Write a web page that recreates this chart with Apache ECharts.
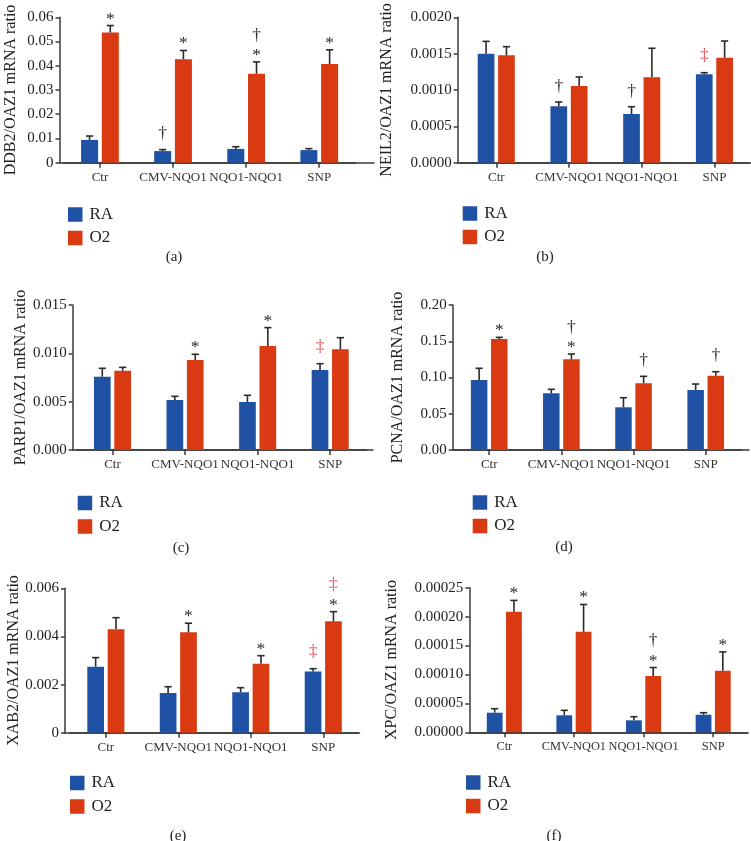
<!DOCTYPE html>
<html><head><meta charset="utf-8">
<script src="https://cdn.jsdelivr.net/npm/echarts@6/dist/echarts.min.js"></script>
<style>html,body{margin:0;padding:0;background:#fff}#c{width:751px;height:841px}</style>
</head><body><div id="c"></div>
<script>
// ---------- data ----------
const categories = ['Ctr', 'CMV-NQO1', 'NQO1-NQO1', 'SNP'];
const seriesNames = ['RA', 'O2'];

// (a) DDB2
const ddb2RA = [0.0094, 0.0048, 0.0057, 0.0052];
const ddb2RASD = [0.0016, 0.0006, 0.0009, 0.0006];
const ddb2O2 = [0.0537, 0.0427, 0.0367, 0.0407];
const ddb2O2SD = [0.0029, 0.0036, 0.0049, 0.0059];
const ddb2AnnRA = ['', '†', '', ''];
const ddb2AnnO2 = ['*', '*', '†*', '*'];
const ddb2Ticks = ['0', '0.01', '0.02', '0.03', '0.04', '0.05', '0.06'];

// (b) NEIL2
const neil2RA = [0.00150, 0.000776, 0.00067, 0.001216];
const neil2RASD = [0.000169, 0.000059, 0.0001, 0.000022];
const neil2O2 = [0.001477, 0.001055, 0.001175, 0.001444];
const neil2O2SD = [0.000119, 0.000124, 0.000399, 0.00023];
const neil2AnnRA = ['', '†', '†', '‡'];
const neil2AnnO2 = ['', '', '', ''];
const neil2Ticks = ['0.0000', '0.0005', '0.0010', '0.0015', '0.0020'];

// (c) PARP1
const parp1RA = [0.00758, 0.00517, 0.00497, 0.00828];
const parp1RASD = [0.00087, 0.00038, 0.00069, 0.00065];
const parp1O2 = [0.0082, 0.0093, 0.01076, 0.01041];
const parp1O2SD = [0.00035, 0.0006, 0.0019, 0.00121];
const parp1AnnRA = ['', '', '', '‡'];
const parp1AnnO2 = ['', '*', '*', ''];
const parp1Ticks = ['0.000', '0.005', '0.010', '0.015'];

// (d) PCNA
const pcnaRA = [0.0966, 0.0782, 0.0589, 0.0828];
const pcnaRASD = [0.0161, 0.0055, 0.0132, 0.0082];
const pcnaO2 = [0.1531, 0.1251, 0.092, 0.1025];
const pcnaO2SD = [0.0023, 0.0073, 0.0096, 0.0055];
const pcnaAnnRA = ['', '', '', ''];
const pcnaAnnO2 = ['*', '†*', '†', '†'];
const pcnaTicks = ['0.00', '0.05', '0.10', '0.15', '0.20'];

// (e) XAB2
const xab2RA = [0.00274, 0.00165, 0.00168, 0.00254];
const xab2RASD = [0.00038, 0.00026, 0.00019, 0.00012];
const xab2O2 = [0.0043, 0.00417, 0.00287, 0.00463];
const xab2O2SD = [0.00048, 0.00038, 0.00033, 0.0004];
const xab2AnnRA = ['', '', '', '‡'];
const xab2AnnO2 = ['', '*', '*', '‡*'];
const xab2Ticks = ['0', '0.002', '0.004', '0.006'];

// (f) XPC
const xpcRA = [0.0000339, 0.0000294, 0.0000207, 0.0000304];
const xpcRASD = [0.0000069, 0.0000086, 0.0000063, 0.0000035];
const xpcO2 = [0.0002084, 0.0001738, 0.0000973, 0.0001065];
const xpcO2SD = [0.0000196, 0.0000472, 0.0000147, 0.0000325];
const xpcAnnRA = ['', '', '', ''];
const xpcAnnO2 = ['*', '*', '†*', '*'];
const xpcTicks = ['0.00000', '0.00005', '0.00010', '0.00015', '0.00020', '0.00025'];

// ---------- panels (data refs + layout) ----------
const panels = [
  {label:'(a)', name:'DDB2/OAZ1 mRNA ratio', ra:ddb2RA, raSD:ddb2RASD, o2:ddb2O2, o2SD:ddb2O2SD, annRA:ddb2AnnRA, annO2:ddb2AnnO2, ticks:ddb2Ticks, interval:0.01,
   axisX:59.5, top:17.3, bottom:162.7, axisEnd:374, bandLeft:63.4, bandWidth:292.4, barW:17, nameGap:41, legL:63, legT:201, labX:174, labY:257, catFont:13},
  {label:'(b)', name:'NEIL2/OAZ1 mRNA ratio', ra:neil2RA, raSD:neil2RASD, o2:neil2O2, o2SD:neil2O2SD, annRA:neil2AnnRA, annO2:neil2AnnO2, ticks:neil2Ticks, interval:0.0005,
   axisX:457.7, top:17.3, bottom:162.7, axisEnd:749, bandLeft:459.9, bandWidth:290.9, barW:16.7, nameGap:63, legL:457.7, legT:200, labX:545, labY:257, catFont:13},
  {label:'(c)', name:'PARP1/OAZ1 mRNA ratio', ra:parp1RA, raSD:parp1RASD, o2:parp1O2, o2SD:parp1O2SD, annRA:parp1AnnRA, annO2:parp1AnnO2, ticks:parp1Ticks, interval:0.005,
   axisX:72.7, top:305, bottom:450, axisEnd:373, bandLeft:76.2, bandWidth:290.3, barW:16.7, nameGap:43, legL:72.7, legT:489.5, labX:181, labY:548, catFont:13},
  {label:'(d)', name:'PCNA/OAZ1 mRNA ratio', ra:pcnaRA, raSD:pcnaRASD, o2:pcnaO2, o2SD:pcnaO2SD, annRA:pcnaAnnRA, annO2:pcnaAnnO2, ticks:pcnaTicks, interval:0.05,
   axisX:452.7, top:305, bottom:450, axisEnd:749, bandLeft:453.1, bandWidth:288.7, barW:16.5, nameGap:47, legL:467.7, legT:489, labX:564, labY:547, catFont:13},
  {label:'(e)', name:'XAB2/OAZ1 mRNA ratio', ra:xab2RA, raSD:xab2RASD, o2:xab2O2, o2SD:xab2O2SD, annRA:xab2AnnRA, annO2:xab2AnnO2, ticks:xab2Ticks, interval:0.002,
   axisX:65, top:588.3, bottom:732.7, axisEnd:358.3, bandLeft:69.6, bandWidth:289.9, barW:16.7, nameGap:41, legL:65, legT:769.5, labX:178, labY:836, catFont:13},
  {label:'(f)', name:'XPC/OAZ1 mRNA ratio', ra:xpcRA, raSD:xpcRASD, o2:xpcO2, o2SD:xpcO2SD, annRA:xpcAnnRA, annO2:xpcAnnO2, ticks:xpcTicks, interval:0.00005,
   axisX:469.3, top:587.7, bottom:732.3, axisEnd:747.7, bandLeft:469.5, bandWidth:278.5, barW:15.8, nameGap:70, legL:461, legT:769, labX:554, labY:836, catFont:12.4}
];

const FONT = '"Liberation Serif", "DejaVu Serif", serif';
const BLUE = '#1f52a5', RED = '#d93a12', INK = '#2b2b2b', AXIS = '#3a3a3a', ACCENT = '#e84a55';
const BAR_GAP = 0.22;
const GLYPH_SIZE = 17.5;
const glyphBase = {'*': 9, '†': 14.5, '‡': 16};
const glyphCorr = {'*': 2.4, '†': -1.3, '‡': -1.3};

function makeRender(p, sIdx, ann) {
  return function (params, api) {
    const c = api.value(0), v = api.value(1), sd = api.value(2);
    const w = p.barW, g = w * BAR_GAP;
    const off = (sIdx === 0 ? -1 : 1) * (w + g) / 2;
    const p0 = api.coord([c, v]);
    const p1 = api.coord([c, v + sd]);
    const x = p0[0] + off;
    const children = [
      {type:'line', shape:{x1:x, y1:p0[1], x2:x, y2:p1[1]}, style:{stroke:INK, lineWidth:1.6}},
      {type:'line', shape:{x1:x - 3.6, y1:p1[1], x2:x + 3.6, y2:p1[1]}, style:{stroke:INK, lineWidth:1.6}}
    ];
    const s = ann[params.dataIndex] || '';
    const chars = Array.from(s);
    let center = null;
    for (let i = chars.length - 1; i >= 0; i--) {
      const ch = chars[i];
      center = (center === null) ? p1[1] - glyphBase[ch] : center - 16.5;
      children.push({type:'text', x:x, y:center + glyphCorr[ch],
        style:{text:ch, fill: ch === '‡' ? ACCENT : INK, fontSize:GLYPH_SIZE, fontFamily:FONT, align:'center', verticalAlign:'middle'}});
    }
    return {type:'group', children};
  };
}

const grid = [], xAxis = [], yAxis = [], series = [], legend = [], graphic = [];
panels.forEach((p, k) => {
  const gb = grid.length;
  grid.push({left:p.bandLeft, width:p.bandWidth, top:p.top, height:p.bottom - p.top});
  grid.push({left:p.axisX, width:p.axisEnd - p.axisX, top:p.top, height:p.bottom - p.top});
  const xb = xAxis.length;
  xAxis.push({type:'category', gridIndex:gb, data:categories,
    axisLine:{show:true, lineStyle:{color:AXIS, width:1.5}},
    axisTick:{show:true, alignWithLabel:true, length:5, lineStyle:{color:AXIS, width:1.5}},
    axisLabel:{interval:0, fontSize:p.catFont, fontFamily:FONT, color:'#333', margin:8}});
  xAxis.push({type:'value', gridIndex:gb + 1, min:0, max:1,
    axisLine:{show:true, lineStyle:{color:AXIS, width:1.5}}, axisTick:{show:false}, axisLabel:{show:false}, splitLine:{show:false}});
  const yb = yAxis.length;
  const maxV = p.interval * (p.ticks.length - 1);
  yAxis.push({type:'value', gridIndex:gb, min:0, max:maxV, interval:p.interval, offset:p.bandLeft - p.axisX,
    name:p.name, nameLocation:'middle', nameGap:p.nameGap,
    nameTextStyle:{fontSize:16, fontFamily:FONT, color:'#222'},
    axisLine:{show:true, lineStyle:{color:AXIS, width:1.5}},
    axisTick:{show:true, length:4, lineStyle:{color:AXIS, width:1.5}},
    axisLabel:{fontSize:15, fontFamily:FONT, color:'#222', margin:6,
      formatter:(val) => p.ticks[Math.round(val / p.interval)]},
    splitLine:{show:false}});
  yAxis.push({type:'value', gridIndex:gb + 1, min:0, max:1, show:false});

  [[p.ra, p.raSD, p.annRA, BLUE], [p.o2, p.o2SD, p.annO2, RED]].forEach((d, sIdx) => {
    series.push({type:'bar', name:seriesNames[sIdx], xAxisIndex:xb, yAxisIndex:yb, data:d[0],
      barWidth:p.barW, barGap:(BAR_GAP * 100) + '%', itemStyle:{color:d[3]}, silent:true});
  });
  [[p.ra, p.raSD, p.annRA], [p.o2, p.o2SD, p.annO2]].forEach((d, sIdx) => {
    series.push({type:'custom', name:seriesNames[sIdx] + ' SD', xAxisIndex:xb, yAxisIndex:yb, z:5,
      data:d[0].map((v, i) => [i, v, d[1][i]]), encode:{x:0, y:1},
      renderItem:makeRender(p, sIdx, d[2]), silent:true});
  });
  legend.push({data:seriesNames, orient:'vertical', left:p.legL, top:p.legT, icon:'rect',
    itemWidth:14.5, itemHeight:14.5, itemGap:6.5, selectedMode:false,
    textStyle:{fontSize:17, fontFamily:FONT, color:'#222', padding:[0, 0, 0, 2]}});
  graphic.push({type:'text', x:p.labX, y:p.labY,
    style:{text:p.label, fontSize:15, fontFamily:FONT, fill:'#222', align:'center', verticalAlign:'middle'}});
});

const chart = echarts.init(document.getElementById('c'), null, {renderer:'canvas'});
chart.setOption({animation:false, backgroundColor:'#fff', grid, xAxis, yAxis, series, legend, graphic});
</script>
</body></html>
